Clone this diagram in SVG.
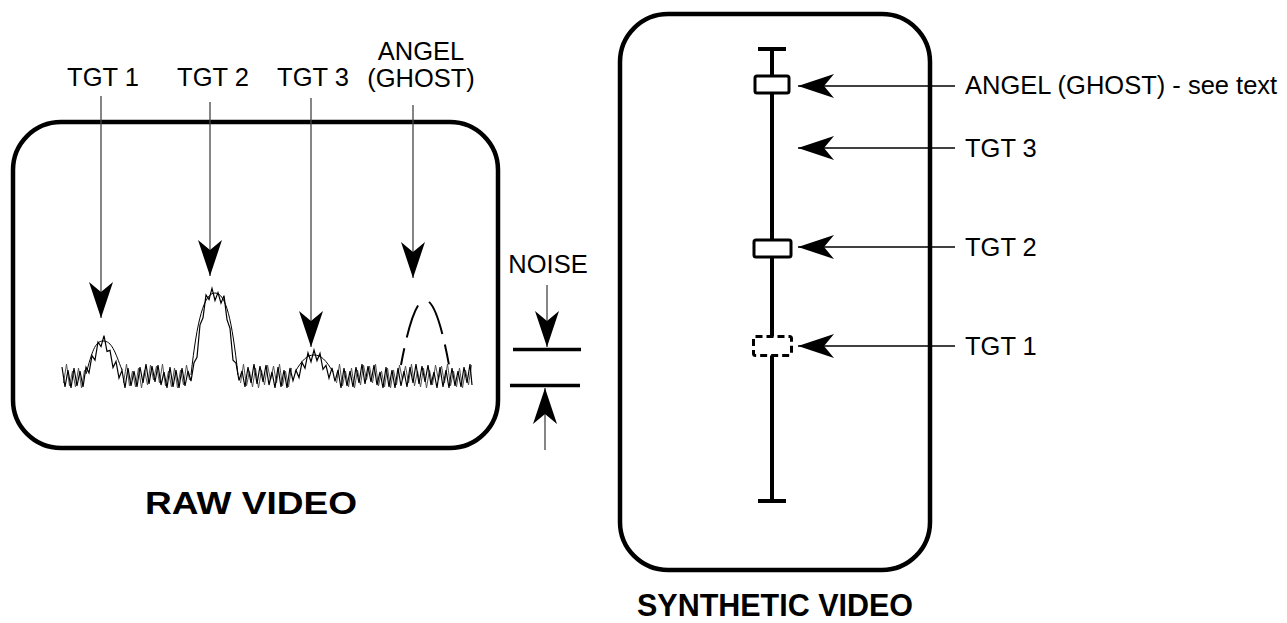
<svg xmlns="http://www.w3.org/2000/svg" width="1287" height="623" viewBox="0 0 1287 623">
<style>
text{font-family:"Liberation Sans",Arial,Helvetica,sans-serif;fill:#000}
.lbl{font-size:25.5px}
.ttl{font-size:32px;font-weight:bold}
.frame{fill:none;stroke:#000;stroke-width:4.5}
.ptr{fill:none;stroke:#444;stroke-width:1.3;marker-end:url(#ah)}
.ptrk{fill:none;stroke:#000;stroke-width:1.3;marker-end:url(#ah)}
.bar{stroke:#000;stroke-width:3.5;fill:none}
.blip{fill:#fff;stroke:#000;stroke-width:3}
.nz{fill:none;stroke:#000;stroke-width:1.2}
.nz2{fill:none;stroke:#555;stroke-width:1}
</style>
<defs>
<marker id="ah" markerUnits="userSpaceOnUse" markerWidth="36" markerHeight="24" viewBox="0 0 36 24" refX="36" refY="12" orient="auto">
<path d="M0,0 L36,12 L0,24 L10,12 Z" fill="#000"/>
</marker>
</defs>

<g id="raw-video">
<rect class="frame" x="13" y="122" width="485" height="326" rx="48"/>
<polyline class="nz2" points="63.5,383 66.5,364 69.5,386 72.5,371 75.5,387 78.5,368 81.5,388 84.5,370"/>
<polyline class="nz2" points="123.5,383 126.5,364 129.5,386 132.5,371 135.5,387 138.5,368 141.5,388 144.5,370 147.5,385 150.5,365 153.5,380 156.5,366 159.5,383 162.5,364 165.5,386 168.5,371 171.5,387 174.5,368 177.5,388 180.5,370 183.5,385 186.5,365 189.5,380"/>
<polyline class="nz2" points="240.5,383 243.5,364 246.5,386 249.5,371 252.5,387 255.5,368 258.5,388 261.5,370 264.5,385 267.5,365 270.5,380 273.5,366 276.5,383 279.5,364 282.5,386 285.5,371 288.5,387 291.5,368"/>
<polyline class="nz2" points="336.5,383 339.5,364 342.5,386 345.5,371 348.5,387 351.5,368 354.5,388 357.5,370 360.5,385 363.5,365 366.5,380 369.5,366 372.5,383 375.5,364 378.5,386 381.5,371 384.5,387 387.5,368 390.5,388 393.5,370 396.5,385 399.5,365 402.5,380 405.5,366 408.5,383 411.5,364 414.5,386 417.5,371 420.5,387 423.5,368 426.5,388 429.5,370 432.5,385 435.5,365 438.5,380 441.5,366 444.5,383 447.5,364 450.5,386 453.5,371 456.5,387 459.5,368 462.5,388 465.5,370 468.5,385 471.5,365"/>
<polyline class="nz" points="62,367 65,387 68,370 71,388 74,368 77,386 80,371 83,387 86,367.1 89,372.9 92,355.6 95,360.2 98,342 101,346.6 104,335.7 107,351.4 110,350.4 113,367.6 116,361.5 119,378 122,370.4 125,388 128,368 131,386 134,371 137,387 140,367 143,383 146,364 149,384 152,366 155,382 158,365 161,385 164,372 167,388 170,367 173,387 176,370 179,388 182,368 185,386 188,371 191,381.1 194,362.6 197,357.2 200,324.8 203,317.8 206,295 209,299.6 212,288.4 215,300.4 218,292.6 221,303.2 224,295.6 227,319.6 230,328.4 233,360.2 236,363.2 239,380.5 242,371 245,387 248,367 251,383 254,364 257,384 260,366 263,382 266,365 269,385 272,372 275,388 278,367 281,387 284,370 287,388 290,368 293,380.7 296,370.3 299,377.6 302,362.4 305,368.2 308,352.8 311,361.8 314,350 317,360.6 320,353.4 323,369.4 326,365.4 329,378.2 332,367.9 335,381.3 338,370 341,388 344,368 347,386 350,371 353,387 356,367 359,383 362,364 365,384 368,366 371,382 374,365 377,385 380,372 383,388 386,367 389,387 392,370 395,388 398,368 401,386 404,371 407,387 410,367 413,383 416,364 419,384 422,366 425,382 428,365 431,385 434,372 437,388 440,367 443,387 446,370 449,388 452,368 455,386 458,371 461,387 464,367 467,383 470,364 472,385"/>
<path fill="none" stroke="#000" stroke-width="1" d="M86,374 C92,352 95,341 103,341 C112,341 115,352 122,370 M191,375 C197,320 204,293 215,293 C226,293 232,320 238,375 M295,372 C302,360 307,355 314,355 C321,355 326,360 333,372"/>
<path fill="none" stroke="#000" stroke-width="2" stroke-dasharray="17 11 34 14 35 11 20" d="M401,365 Q425,235 449,365"/>
<text class="ttl" x="251" y="514" font-size="31" text-anchor="middle" textLength="212" lengthAdjust="spacingAndGlyphs">RAW VIDEO</text>
</g>

<g id="raw-labels">
<text class="lbl" x="103" y="86" text-anchor="middle">TGT 1</text>
<text class="lbl" x="213" y="86" text-anchor="middle">TGT 2</text>
<text class="lbl" x="313" y="86" text-anchor="middle">TGT 3</text>
<text class="lbl" x="421" y="60" font-size="24" text-anchor="middle">ANGEL</text>
<text class="lbl" x="421" y="87" font-size="24" text-anchor="middle">(GHOST)</text>
</g>

<g id="noise">
<text class="lbl" x="548" y="273" font-size="24" text-anchor="middle">NOISE</text>
<line class="bar" x1="513" y1="349.5" x2="581" y2="349.5"/>
<line class="bar" x1="510" y1="385.5" x2="580" y2="385.5"/>
</g>

<g id="synthetic-video">
<rect class="frame" x="620" y="14" width="310" height="556" rx="48"/>
<line x1="772" y1="49" x2="772" y2="501" stroke="#000" stroke-width="4"/>
<line x1="758" y1="49" x2="786" y2="49" stroke="#000" stroke-width="4"/>
<line x1="758" y1="501" x2="786" y2="501" stroke="#000" stroke-width="4"/>
<rect id="blip-angel" class="blip" x="755" y="76" width="34" height="17" rx="2"/>
<rect id="blip-tgt2" class="blip" x="754" y="240" width="37" height="17" rx="2"/>
<rect id="blip-tgt1" class="blip" x="753.5" y="336.5" width="38" height="19" rx="2" stroke-dasharray="7 4"/>
<text class="ttl" x="775" y="616" font-size="33" text-anchor="middle" textLength="276" lengthAdjust="spacingAndGlyphs">SYNTHETIC VIDEO</text>
</g>

<g id="synthetic-labels">
<text class="lbl" x="965" y="94">ANGEL (GHOST) - see text</text>
<text class="lbl" x="965" y="157">TGT 3</text>
<text class="lbl" x="965" y="256">TGT 2</text>
<text class="lbl" x="965" y="355">TGT 1</text>
</g>

<g id="connectors">
<path class="ptr" d="M101,96 V318"/>
<path class="ptr" d="M210,102 V276"/>
<path class="ptr" d="M311,98 V347"/>
<path class="ptr" d="M413,105 V278"/>
<path class="ptr" d="M547,285 V347"/>
<path class="ptr" d="M545,450 V388"/>
<path class="ptrk" d="M955,86 H798"/>
<path class="ptrk" d="M955,148 H798"/>
<path class="ptrk" d="M955,247 H798"/>
<path class="ptrk" d="M955,346 H798"/>
</g>
</svg>
